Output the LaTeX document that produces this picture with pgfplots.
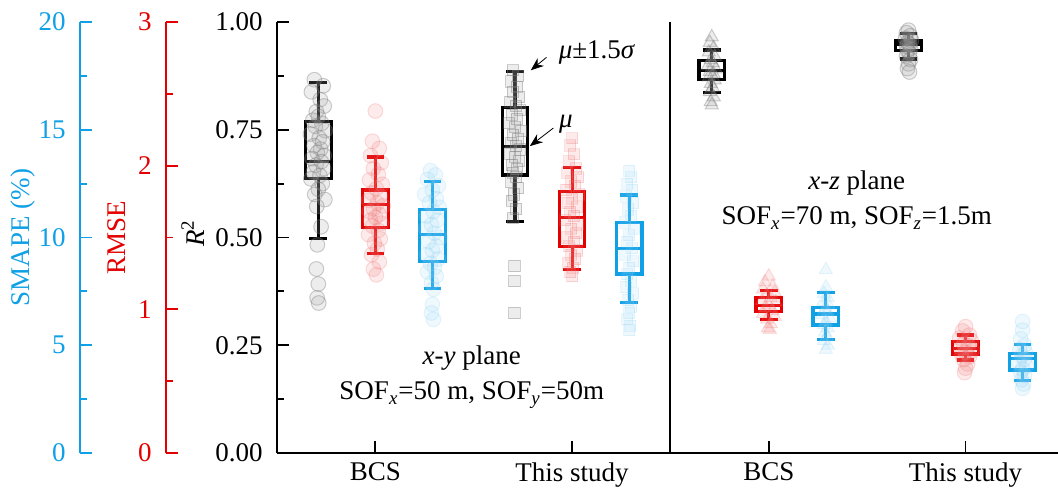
\documentclass[border=0pt]{standalone}
\usepackage{pgfplots}
\pgfplotsset{compat=1.18}
\usepgfplotslibrary{statistics}
\usetikzlibrary{arrows.meta}
\usepackage{fontspec}
\setmainfont{Liberation Serif}

\definecolor{cR}{RGB}{228,0,0}
\definecolor{cB}{RGB}{15,160,230}

\pgfplotsset{
  /pgf/number format/assume math mode=true,
  panel/.style={scale only axis, width=390.5pt, height=215.5pt,
    xmin=0.5, xmax=4.47, at={(138.5pt,17.5pt)}, anchor=south west,
    boxplot/draw direction=y},
  side/.style={scale only axis, width=100pt, height=215.5pt,
    xmin=0, xmax=1, hide x axis, axis y line*=left, anchor=south west,
    tick align=inside, major tick length=6pt, minor tick length=3.5pt,
    yticklabel style={xshift=-2.5pt}},
  ptK/.style={only marks, mark options={draw=black!55, fill=black!35,
    draw opacity=0.35, fill opacity=0.2, line width=0.5pt}},
  ptR/.style={only marks, mark options={draw=cR!60, fill=cR!50,
    draw opacity=0.2, fill opacity=0.17, line width=0.5pt}},
  ptB/.style={only marks, mark options={draw=cB!55, fill=cB!45,
    draw opacity=0.18, fill opacity=0.15, line width=0.5pt}},
  circ/.style={mark=*, mark size=3.7pt},
  sq/.style={mark=square*, mark size=2.8pt},
  tri/.style={mark=triangle*, mark size=3.8pt},
  bx/.style={line width=1.6pt, solid, mark=none},
}

\begin{document}
\fontsize{13.5}{16}\selectfont
\begin{tikzpicture}
\useasboundingbox (0,0) rectangle (529pt,244pt);

% ---------- SMAPE axis (cyan) ----------
\begin{axis}[side, at={(40pt,17.5pt)}, ymin=0, ymax=20,
  ytick={0,5,10,15,20}, minor ytick={2.5,7.5,12.5,17.5},
  axis line style={cB, line width=0.9pt}, tick style={cB, line width=0.9pt},
  yticklabel style={cB},
  ylabel={SMAPE (\%)}, ylabel style={cB, at={(axis description cs:-0.285,0.5)}, anchor=center}]
\addplot[draw=none] coordinates {(0,0)};
\end{axis}

% ---------- RMSE axis (red) ----------
\begin{axis}[side, at={(83pt,17.5pt)}, ymin=0, ymax=3,
  ytick={0,1,2,3}, minor ytick={0.5,1.5,2.5},
  axis line style={cR, line width=0.9pt}, tick style={cR, line width=0.9pt},
  yticklabel style={cR},
  ylabel={RMSE}, ylabel style={cR, at={(axis description cs:-0.245,0.5)}, anchor=center}]
\addplot[draw=none] coordinates {(0,0)};
\end{axis}

% ---------- RMSE data ----------
\begin{axis}[panel, hide axis, ymin=0, ymax=3]
\addplot[ptR, circ] coordinates {
 (1.0,2.38) (0.985,2.17) (1.02,2.12) (0.975,2.07) (1.03,2.02) (0.99,1.98) (1.015,1.94)
 (0.97,1.90) (1.035,1.87) (1.005,1.84) (0.98,1.81) (1.025,1.79) (0.965,1.76) (1.01,1.74)
 (1.04,1.72) (0.99,1.70) (0.97,1.68) (1.02,1.66) (1.0,1.64) (0.975,1.62) (1.03,1.60)
 (0.985,1.58) (1.015,1.55) (0.965,1.52) (1.025,1.49) (0.995,1.46) (1.01,1.42) (0.98,1.38)
 (1.02,1.33) (0.99,1.28) (1.005,1.24)};
\addplot[ptR, sq] coordinates {
 (2.0,2.19) (1.99,2.14) (2.01,2.08) (1.985,2.03) (2.02,1.98) (1.975,1.95) (2.03,1.92)
 (1.995,1.89) (2.015,1.86) (1.97,1.83) (2.035,1.80) (2.0,1.77) (1.98,1.74) (2.025,1.71)
 (1.99,1.68) (2.01,1.65) (1.965,1.62) (2.03,1.59) (1.995,1.56) (2.02,1.53) (1.975,1.50)
 (2.01,1.47) (1.985,1.44) (2.025,1.41) (1.995,1.38) (2.015,1.35) (1.98,1.32) (2.005,1.29)
 (1.99,1.26) (2.0,1.23)};
\addplot[ptR, tri] coordinates {
 (3.0,1.23) (2.98,1.19) (3.02,1.16) (2.97,1.14) (3.03,1.12) (2.99,1.10) (3.01,1.08)
 (2.965,1.06) (3.035,1.05) (3.0,1.03) (2.98,1.01) (3.02,0.99) (2.97,0.97) (3.03,0.95)
 (2.99,0.93) (3.01,0.90) (2.995,0.87) (3.005,0.86)};
\addplot[ptR, circ] coordinates {
 (4.0,0.88) (3.985,0.85) (4.02,0.82) (3.97,0.80) (4.03,0.78) (3.99,0.76) (4.015,0.745)
 (3.975,0.73) (4.035,0.715) (4.0,0.70) (3.98,0.685) (4.02,0.67) (3.99,0.65) (4.01,0.62)
 (4.0,0.59) (3.995,0.56)};
\addplot[cR, bx, boxplot prepared={draw position=1.0, lower whisker=1.39, lower quartile=1.57,
  median=1.73, upper quartile=1.83, upper whisker=2.06, box extend=0.13, whisker extend=0.09}] coordinates {};
\addplot[cR, bx, boxplot prepared={draw position=2.0, lower whisker=1.28, lower quartile=1.44,
  median=1.64, upper quartile=1.82, upper whisker=1.99, box extend=0.13, whisker extend=0.09}] coordinates {};
\addplot[cR, bx, boxplot prepared={draw position=3.0, lower whisker=0.93, lower quartile=0.983,
  median=1.025, upper quartile=1.08, upper whisker=1.13, box extend=0.13, whisker extend=0.09}] coordinates {};
\addplot[cR, bx, boxplot prepared={draw position=4.0, lower whisker=0.647, lower quartile=0.689,
  median=0.729, upper quartile=0.775, upper whisker=0.821, box extend=0.13, whisker extend=0.09}] coordinates {};
\end{axis}

% ---------- SMAPE data ----------
\begin{axis}[panel, hide axis, ymin=0, ymax=20]
\addplot[ptB, circ] coordinates {
 (1.28,13.1) (1.305,12.9) (1.265,12.7) (1.32,12.4) (1.29,12.2) (1.25,12.0) (1.31,11.8)
 (1.275,11.6) (1.325,11.4) (1.295,11.2) (1.26,11.0) (1.315,10.8) (1.285,10.6) (1.255,10.4)
 (1.3,10.2) (1.33,10.0) (1.27,9.8) (1.31,9.6) (1.29,9.4) (1.26,9.2) (1.32,9.0) (1.28,8.8)
 (1.3,8.6) (1.265,8.4) (1.31,8.2) (1.285,7.9) (1.295,7.6) (1.29,6.9) (1.285,6.5) (1.295,6.2)};
\addplot[ptB, sq] coordinates {
 (2.29,13.1) (2.3,12.8) (2.28,12.5) (2.305,12.2) (2.275,11.9) (2.31,11.6) (2.285,11.3)
 (2.3,11.0) (2.27,10.7) (2.315,10.4) (2.29,10.1) (2.28,9.8) (2.305,9.5) (2.27,9.2)
 (2.31,8.9) (2.29,8.6) (2.28,8.3) (2.3,8.0) (2.275,7.7) (2.31,7.4) (2.285,7.1) (2.3,6.8)
 (2.29,6.5) (2.28,6.2) (2.295,5.9) (2.29,5.7)};
\addplot[ptB, tri] coordinates {
 (3.29,8.5) (3.29,7.7) (3.28,7.4) (3.3,7.2) (3.275,7.0) (3.305,6.85) (3.285,6.7) (3.3,6.55)
 (3.27,6.4) (3.31,6.25) (3.29,6.1) (3.28,5.95) (3.3,5.8) (3.285,5.6) (3.295,5.4) (3.28,5.2)
 (3.3,5.0) (3.29,4.8)};
\addplot[ptB, circ] coordinates {
 (4.29,6.1) (4.29,5.7) (4.28,5.3) (4.3,5.0) (4.275,4.8) (4.305,4.65) (4.285,4.5) (4.3,4.35)
 (4.27,4.2) (4.31,4.05) (4.29,3.9) (4.28,3.75) (4.3,3.6) (4.285,3.4) (4.295,3.2) (4.29,3.0)};
\addplot[cB, bx, boxplot prepared={draw position=1.29, lower whisker=7.64, lower quartile=8.9,
  median=10.15, upper quartile=11.3, upper whisker=12.6, box extend=0.13, whisker extend=0.09}] coordinates {};
\addplot[cB, bx, boxplot prepared={draw position=2.29, lower whisker=6.97, lower quartile=8.31,
  median=9.50, upper quartile=10.69, upper whisker=11.97, box extend=0.13, whisker extend=0.09}] coordinates {};
\addplot[cB, bx, boxplot prepared={draw position=3.29, lower whisker=5.28, lower quartile=5.94,
  median=6.45, upper quartile=6.74, upper whisker=7.44, box extend=0.13, whisker extend=0.09}] coordinates {};
\addplot[cB, bx, boxplot prepared={draw position=4.29, lower whisker=3.35, lower quartile=3.85,
  median=4.39, upper quartile=4.63, upper whisker=5.04, box extend=0.13, whisker extend=0.09}] coordinates {};
\end{axis}

% ---------- R^2 axis and data ----------
\begin{axis}[panel, ymin=0, ymax=1,
  axis x line*=bottom, axis y line*=left,
  axis line style={line width=0.9pt}, tick style={black, line width=0.9pt},
  tick align=inside, major tick length=6pt, minor tick length=3.5pt,
  xtick={1,2,3,4}, xticklabels={BCS,This study,BCS,This study},
  ytick={0,0.25,0.5,0.75,1}, minor ytick={0.125,0.375,0.625,0.875},
  yticklabel style={xshift=-2.5pt, /pgf/number format/.cd, fixed, fixed zerofill, precision=2},
  ylabel={\textit{R}\textsuperscript{2}},
  ylabel style={at={(axis description cs:-0.1076,0.51)}, anchor=center}]
\addplot[ptK, circ] coordinates {
 (0.69,0.866) (0.735,0.852) (0.675,0.838) (0.72,0.820) (0.74,0.805) (0.70,0.792) (0.71,0.781)
 (0.682,0.772) (0.728,0.765) (0.695,0.758) (0.745,0.748) (0.67,0.740) (0.715,0.731)
 (0.732,0.722) (0.688,0.713) (0.722,0.705) (0.705,0.697) (0.74,0.690) (0.678,0.683)
 (0.725,0.676) (0.698,0.668) (0.738,0.660) (0.685,0.652) (0.718,0.644) (0.672,0.636)
 (0.73,0.625) (0.71,0.612) (0.692,0.600) (0.743,0.588) (0.702,0.572) (0.724,0.525)
 (0.705,0.483) (0.70,0.427) (0.71,0.392) (0.704,0.360) (0.712,0.348)};
\addplot[ptK, sq] coordinates {
 (1.70,0.888) (1.725,0.875) (1.69,0.862) (1.72,0.850) (1.70,0.838) (1.73,0.826) (1.685,0.815)
 (1.715,0.805) (1.735,0.795) (1.695,0.785) (1.72,0.775) (1.68,0.765) (1.71,0.756) (1.74,0.747)
 (1.70,0.738) (1.725,0.729) (1.69,0.720) (1.715,0.712) (1.735,0.704) (1.685,0.695) (1.71,0.686)
 (1.73,0.677) (1.695,0.668) (1.72,0.659) (1.70,0.650) (1.715,0.640) (1.69,0.628) (1.725,0.615)
 (1.705,0.600) (1.695,0.585) (1.715,0.566) (1.70,0.545) (1.707,0.434) (1.707,0.399) (1.707,0.325)};
\addplot[ptK, tri] coordinates {
 (2.71,0.965) (2.70,0.952) (2.72,0.940) (2.695,0.930) (2.725,0.920) (2.705,0.912) (2.715,0.905)
 (2.69,0.898) (2.73,0.891) (2.70,0.885) (2.72,0.879) (2.695,0.872) (2.725,0.865) (2.705,0.857)
 (2.715,0.848) (2.70,0.838) (2.72,0.826) (2.705,0.815) (2.71,0.807)};
\addplot[ptK, circ] coordinates {
 (3.71,0.981) (3.70,0.975) (3.72,0.968) (3.695,0.962) (3.725,0.957) (3.705,0.952) (3.715,0.948)
 (3.70,0.944) (3.72,0.939) (3.705,0.934) (3.715,0.928) (3.70,0.921) (3.72,0.913) (3.71,0.903)
 (3.705,0.892) (3.715,0.884)};
\addplot[black, bx, boxplot prepared={draw position=0.71, lower whisker=0.497, lower quartile=0.637,
  median=0.677, upper quartile=0.770, upper whisker=0.860, box extend=0.13, whisker extend=0.09}] coordinates {};
\addplot[black, bx, boxplot prepared={draw position=1.71, lower whisker=0.537, lower quartile=0.645,
  median=0.712, upper quartile=0.801, upper whisker=0.886, box extend=0.13, whisker extend=0.09}] coordinates {};
\addplot[black, bx, boxplot prepared={draw position=2.71, lower whisker=0.837, lower quartile=0.867,
  median=0.887, upper quartile=0.910, upper whisker=0.935, box extend=0.13, whisker extend=0.09}] coordinates {};
\addplot[black, bx, boxplot prepared={draw position=3.71, lower whisker=0.914, lower quartile=0.933,
  median=0.949, upper quartile=0.956, upper whisker=0.974, box extend=0.13, whisker extend=0.09}] coordinates {};
% divider between the two planes
\addplot[black, line width=1pt, mark=none] coordinates {(2.5,0) (2.5,1)};
% annotations
\node[anchor=west] at (axis cs:1.885,0.930) {\textit{μ}±1.5\textit{σ}};
\draw[line width=0.4pt, -{Stealth[length=6.5pt, width=5pt]}] (axis cs:1.87,0.918) -- (axis cs:1.79,0.888);
\node at (axis cs:1.968,0.762) {\textit{μ}};
\draw[line width=0.4pt, -{Stealth[length=6.5pt, width=5pt]}] (axis cs:1.905,0.754) -- (axis cs:1.785,0.712);
\node[align=center] at (axis cs:1.49,0.176)
  {\textit{x}-\textit{y} plane\\[1.5pt]SOF\textsubscript{\textit{x}}=50 m, SOF\textsubscript{\textit{y}}=50m};
\node[align=center] at (axis cs:3.447,0.587)
  {\textit{x}-\textit{z} plane\\[1.5pt]SOF\textsubscript{\textit{x}}=70 m, SOF\textsubscript{\textit{z}}=1.5m};
\end{axis}
\end{tikzpicture}
\end{document}
